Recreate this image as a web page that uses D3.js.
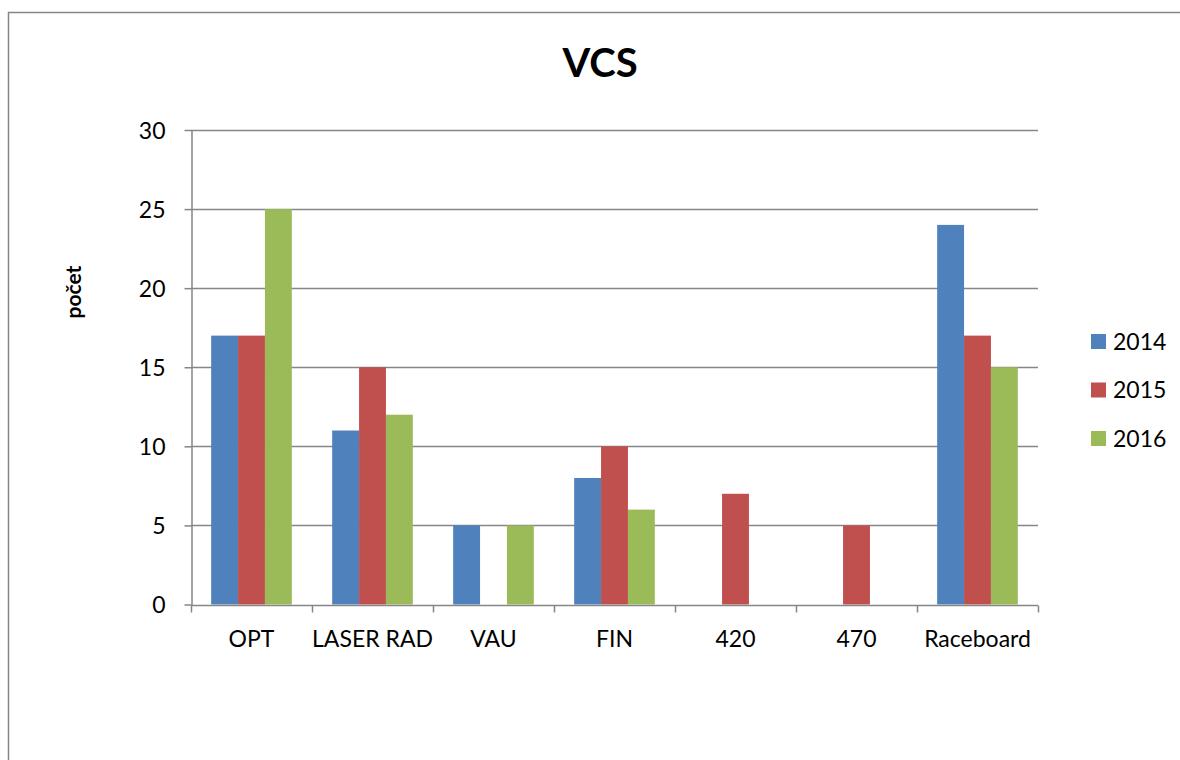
<!DOCTYPE html>
<html>
<head>
<meta charset="utf-8">
<script src="https://cdn.jsdelivr.net/npm/d3@7"></script>
<style>
  body { margin: 0; background: #fff; }
  svg { display: block; font-family: Lato, "Open Sans", sans-serif; }
</style>
</head>
<body>
<div class="vis-barchart"></div>
<script>
// chart data
const categories = ["OPT", "LASER RAD", "VAU", "FIN", "420", "470", "Raceboard"];
const seriesNames = ["2014", "2015", "2016"];
const values2014 = [17, 11, 5, 8, 0, 0, 24];
const values2015 = [17, 15, 0, 10, 7, 5, 17];
const values2016 = [25, 12, 5, 6, 0, 0, 15];
const yTicks = [0, 5, 10, 15, 20, 25, 30];
const colors = ["#4F81BD", "#C0504D", "#9BBB59"];

const seriesValues = [values2014, values2015, values2016];
const width = 1180, height = 760;
const plot = { left: 191, right: 1038, top: 130, bottom: 604.5 };
const gridColor = "#868686";

const svg = d3.select(".vis-barchart").append("svg")
    .attr("width", width)
    .attr("height", height);

// outer frame (left + top edges visible)
svg.append("path")
    .attr("d", "M8.5,760 L8.5,12.5 L1180,12.5")
    .attr("fill", "none")
    .attr("stroke", gridColor)
    .attr("stroke-width", 1.5);

let x = d3.scaleBand()
    .domain(categories)
    .range([plot.left, plot.right])
    .padding(0);
let xs = d3.scaleBand()
    .domain(seriesNames)
    .range([0, x.bandwidth()])
    .paddingInner(0)
    .paddingOuter(0.75);
let y = d3.scaleLinear()
    .domain([0, 30])
    .range([plot.bottom, plot.top]);

const crisp = v => Math.round(v) + 0.5;

// gridlines
svg.append("g").selectAll("line")
    .data(yTicks.filter(d => d > 0))
    .enter().append("line")
    .attr("x1", plot.left).attr("x2", plot.right)
    .attr("y1", d => crisp(y(d))).attr("y2", d => crisp(y(d)))
    .attr("stroke", gridColor)
    .attr("stroke-width", 1.5);

// bars
const rows = [];
categories.forEach(function(c, i) {
  seriesNames.forEach(function(s, j) {
    rows.push({ cat: c, series: s, value: seriesValues[j][i], color: colors[j] });
  });
});
svg.append("g").selectAll("rect")
    .data(rows.filter(d => d.value > 0))
    .enter().append("rect")
    .attr("x", d => x(d.cat) + xs(d.series))
    .attr("width", xs.bandwidth())
    .attr("y", d => y(d.value))
    .attr("height", d => y(0) - y(d.value))
    .attr("fill", d => d.color);

// y axis
const yAxis = svg.append("g")
    .attr("transform", "translate(" + crisp(plot.left) + ",0)")
    .call(d3.axisLeft(y).tickValues(yTicks).tickSize(7).tickPadding(19).tickSizeOuter(0));
yAxis.select(".domain").attr("stroke", gridColor).attr("stroke-width", 1.5);
yAxis.selectAll(".tick line").attr("stroke", gridColor).attr("stroke-width", 1.5);
yAxis.selectAll(".tick text")
    .attr("font-size", 23)
    .attr("font-family", "Lato, sans-serif")
    .attr("fill", "#000")
    .attr("dy", "0.35em");

// x axis
const xAxisG = svg.append("g")
    .attr("transform", "translate(0," + crisp(plot.bottom) + ")");
xAxisG.append("line")
    .attr("x1", plot.left).attr("x2", plot.right)
    .attr("stroke", gridColor).attr("stroke-width", 1.5);
xAxisG.selectAll(".xtick")
    .data(categories.concat(["end"]))
    .enter().append("line")
    .attr("x1", (d, i) => crisp(plot.left + i * x.step()))
    .attr("x2", (d, i) => crisp(plot.left + i * x.step()))
    .attr("y1", 0).attr("y2", 7)
    .attr("stroke", gridColor).attr("stroke-width", 1.5);
xAxisG.selectAll(".xlabel")
    .data(categories)
    .enter().append("text")
    .attr("x", d => x(d) + x.bandwidth() / 2)
    .attr("y", 41)
    .attr("text-anchor", "middle")
    .attr("font-size", 23)
    .attr("fill", "#000")
    .text(d => d);

// title
svg.append("text")
    .attr("x", 600).attr("y", 77)
    .attr("text-anchor", "middle")
    .attr("font-size", 40)
    .attr("font-weight", "bold")
    .text("VCS");

// y axis title
svg.append("text")
    .attr("transform", "translate(81,292) rotate(-90)")
    .attr("text-anchor", "middle")
    .attr("font-size", 21)
    .attr("font-weight", "bold")
    .text("počet");

// legend
const legend = svg.append("g").selectAll("g")
    .data(seriesNames)
    .enter().append("g")
    .attr("transform", (d, i) => "translate(1091," + (334 + i * 48.5) + ")");
legend.append("rect")
    .attr("width", 15).attr("height", 15)
    .attr("fill", (d, i) => colors[i]);
legend.append("text")
    .attr("x", 22).attr("y", 15.5)
    .attr("font-size", 23)
    .text(d => d);
</script>
</body>
</html>
